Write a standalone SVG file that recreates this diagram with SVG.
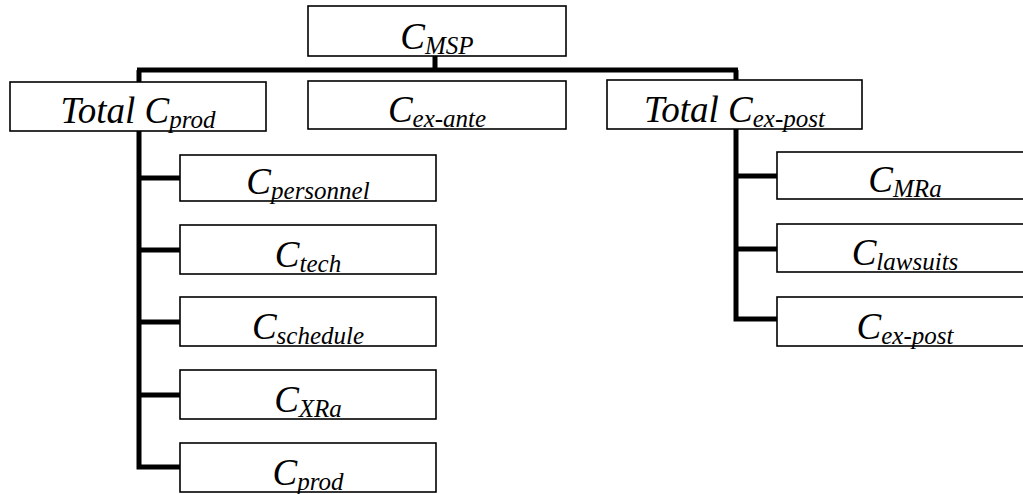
<svg xmlns="http://www.w3.org/2000/svg" width="1023" height="494" viewBox="0 0 1023 494">
  <rect width="1023" height="494" fill="#fff"/>

  <!-- connectors: thick black orthogonal tree lines -->
  <g id="connectors" fill="none" stroke="#000" stroke-width="5" stroke-linejoin="miter">
    <path d="M435 56V70M137 70H738"/>
    <path d="M139 70V467.5M139 178H180M139 250H180M139 322H180M139 395H180M136.5 467H180"/>
    <path d="M736 70V321.5M736 176H777M736 249H777M733.5 319H777"/>
  </g>

  <!-- top node -->
  <g id="n-msp">
    <rect x="308" y="6" width="258" height="50" fill="#fff" stroke="#000" stroke-width="1.6"/>
    <text x="437" y="49" font-family="Liberation Serif" font-style="italic" font-size="37" text-anchor="middle">C<tspan font-size="25" dy="5">MSP</tspan></text>
  </g>

  <!-- second level -->
  <g id="n-total-prod">
    <rect x="10" y="82" width="256" height="49" fill="#fff" stroke="#000" stroke-width="1.6"/>
    <text x="138" y="123" font-family="Liberation Serif" font-style="italic" font-size="37" text-anchor="middle">Total C<tspan font-size="25" dy="5">prod</tspan></text>
  </g>
  <g id="n-ex-ante">
    <rect x="308" y="81" width="258" height="48" fill="#fff" stroke="#000" stroke-width="1.6"/>
    <text x="437" y="122" font-family="Liberation Serif" font-style="italic" font-size="37" text-anchor="middle">C<tspan font-size="25" dy="5">ex-ante</tspan></text>
  </g>
  <g id="n-total-ex-post">
    <rect x="607" y="80" width="255" height="49" fill="#fff" stroke="#000" stroke-width="1.6"/>
    <text x="734.5" y="122" font-family="Liberation Serif" font-style="italic" font-size="37" text-anchor="middle">Total C<tspan font-size="25" dy="5">ex-post</tspan></text>
  </g>

  <!-- production cost items -->
  <g id="n-personnel">
    <rect x="180" y="155" width="256" height="46" fill="#fff" stroke="#000" stroke-width="1.6"/>
    <text x="308" y="194" font-family="Liberation Serif" font-style="italic" font-size="37" text-anchor="middle">C<tspan font-size="25" dy="5">personnel</tspan></text>
  </g>
  <g id="n-tech">
    <rect x="180" y="225" width="256" height="49" fill="#fff" stroke="#000" stroke-width="1.6"/>
    <text x="308" y="267" font-family="Liberation Serif" font-style="italic" font-size="37" text-anchor="middle">C<tspan font-size="25" dy="5">tech</tspan></text>
  </g>
  <g id="n-schedule">
    <rect x="180" y="297" width="256" height="49" fill="#fff" stroke="#000" stroke-width="1.6"/>
    <text x="308" y="339" font-family="Liberation Serif" font-style="italic" font-size="37" text-anchor="middle">C<tspan font-size="25" dy="5">schedule</tspan></text>
  </g>
  <g id="n-xra">
    <rect x="180" y="370" width="256" height="49" fill="#fff" stroke="#000" stroke-width="1.6"/>
    <text x="308" y="412" font-family="Liberation Serif" font-style="italic" font-size="37" text-anchor="middle">C<tspan font-size="25" dy="5">XRa</tspan></text>
  </g>
  <g id="n-prod">
    <rect x="180" y="443" width="256" height="49" fill="#fff" stroke="#000" stroke-width="1.6"/>
    <text x="308" y="485" font-family="Liberation Serif" font-style="italic" font-size="37" text-anchor="middle">C<tspan font-size="25" dy="5">prod</tspan></text>
  </g>

  <!-- ex-post cost items -->
  <g id="n-mra">
    <rect x="777" y="152" width="256" height="47" fill="#fff" stroke="#000" stroke-width="1.6"/>
    <text x="905" y="192" font-family="Liberation Serif" font-style="italic" font-size="37" text-anchor="middle">C<tspan font-size="25" dy="5">MRa</tspan></text>
  </g>
  <g id="n-lawsuits">
    <rect x="777" y="224" width="256" height="48" fill="#fff" stroke="#000" stroke-width="1.6"/>
    <text x="905" y="265" font-family="Liberation Serif" font-style="italic" font-size="37" text-anchor="middle">C<tspan font-size="25" dy="5">lawsuits</tspan></text>
  </g>
  <g id="n-ex-post">
    <rect x="777" y="297" width="256" height="49" fill="#fff" stroke="#000" stroke-width="1.6"/>
    <text x="905" y="339" font-family="Liberation Serif" font-style="italic" font-size="37" text-anchor="middle">C<tspan font-size="25" dy="5">ex-post</tspan></text>
  </g>
</svg>
